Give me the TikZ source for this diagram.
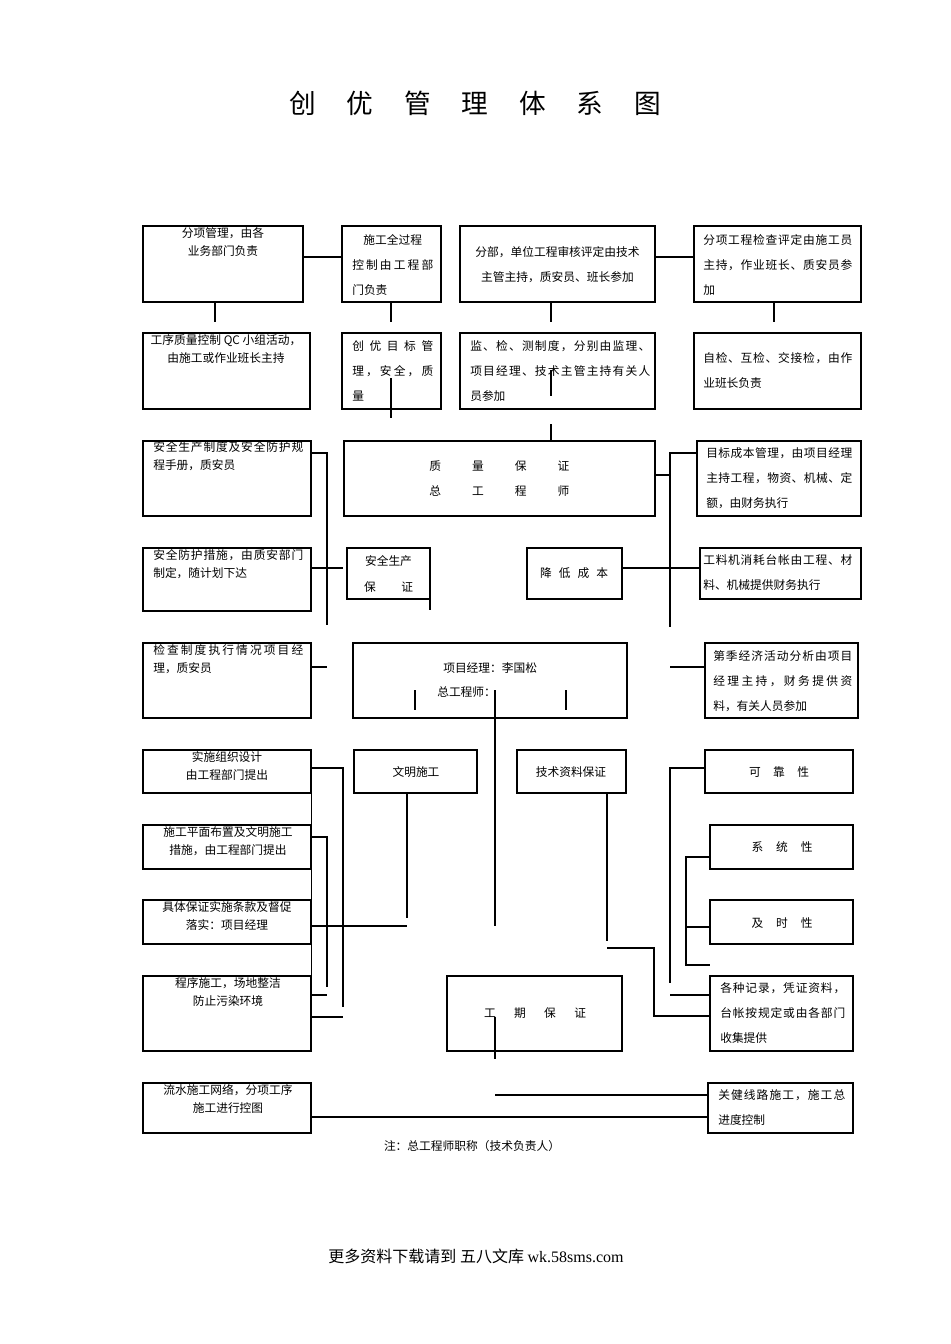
\documentclass[tikz,border=0pt]{standalone}
\usepackage{fontspec}
\setmainfont{Noto Sans CJK SC}
\newfontfamily\lat{Liberation Serif}
\newdimen\pxu \pxu=0.75pt
\def\jstaux#1#2{#1\ifx\relax#2\else\hfill\expandafter\jstaux\expandafter#2\fi}
\newcommand\jst[2]{\makebox[#1\pxu][s]{\jstaux#2\relax}}
\newcommand\fa{\fontsize{8.8}{13.5}\selectfont}
\newcommand\fb{\fontsize{8.8}{18.75}\selectfont}
\newcommand\fc{\fontsize{8.8}{18}\selectfont}
\newcommand\mybox[5]{\node[box,minimum width={(#4-#2)*0.75pt},minimum height={(#5-#3)*0.75pt}] (#1) at ({(#2+#4)/2},{(#3+#5)/2}) {};}
\tikzset{
  box/.style={draw,rectangle,inner sep=0pt,line width=0.9pt},
  ln/.style={line width=0.9pt},
  txt/.style={inner sep=0pt,font=\fa},
  txtb/.style={inner sep=0pt,font=\fb,align=left},
}
\begin{document}
\begin{tikzpicture}[x=0.75pt,y=-0.75pt]
\useasboundingbox (0,0) rectangle (950,1344);
% title
\node[inner sep=0pt,font=\fontsize{20}{20}\selectfont] (title) at (475,103) {\jst{372}{创优管理体系图}};
% boxes
\mybox{A1}{143}{226}{303}{302}
\mybox{A2}{342}{226}{441}{302}
\mybox{A3}{460}{226}{655}{302}
\mybox{A4}{694}{226}{861}{302}
\mybox{B1}{143}{333}{310}{409}
\mybox{B2}{342}{333}{441}{409}
\mybox{B3}{460}{333}{655}{409}
\mybox{B4}{694}{333}{861}{409}
\mybox{C1}{143}{441}{311}{516}
\mybox{QA}{344}{441}{655}{516}
\mybox{C4}{697}{441}{861}{516}
\mybox{C2}{143}{548}{311}{611}
\mybox{SP}{347}{548}{430}{599}
\mybox{JD}{527}{548}{622}{599}
\mybox{C5}{700}{548}{861}{599}
\mybox{D1}{143}{643}{311}{718}
\mybox{PM}{353}{643}{627}{718}
\mybox{D4}{705}{643}{858}{718}
\mybox{E1}{143}{750}{311}{793}
\mybox{WM}{354}{750}{477}{793}
\mybox{JS}{517}{750}{626}{793}
\mybox{F1}{705}{750}{853}{793}
\mybox{E2}{143}{825}{311}{869}
\mybox{F2}{710}{825}{853}{869}
\mybox{E3}{143}{900}{311}{944}
\mybox{F3}{710}{900}{853}{944}
\mybox{E4}{143}{976}{311}{1051}
\mybox{GQ}{447}{976}{622}{1051}
\mybox{F4}{710}{976}{853}{1051}
\mybox{G1}{143}{1083}{311}{1133}
\mybox{G2}{708}{1083}{853}{1133}
% texts
\node[txt,anchor=north,align=center] (A1t) at (223,227.5) {分项管理，由各\\业务部门负责};
\node[txtb,anchor=north west] (A2t) at (352,234.5) {\makebox[81\pxu][c]{施工全过程}\\\jst{81}{控制由工程部}\\门负责};
\node[txtb,anchor=north,align=center] (A3t) at (557.5,246.5) {分部，单位工程审核评定由技术\\主管主持，质安员、班长参加};
\node[txtb,anchor=north west] (A4t) at (703,234.5) {\jst{149}{分项工程检查评定由施工员}\\\jst{149}{主持，作业班长、质安员参}\\加};
\node[txt,anchor=north,align=center] (B1t) at (226,334.5) {工序质量控制 QC 小组活动，\\由施工或作业班长主持};
\node[txtb,anchor=north west] (B2t) at (352,340.5) {\jst{81}{创优目标管}\\\jst{81}{理，安全，质}\\量};
\node[txtb,anchor=north west] (B3t) at (470,340.5) {\jst{180}{监、检、测制度，分别由监理、}\\\jst{180}{项目经理、技术主管主持有关人}\\员参加};
\node[txtb,anchor=north west] (B4t) at (703,352.5) {\jst{149}{自检、互检、交接检，由作}\\业班长负责};
\node[txt,anchor=north west,align=left] (C1t) at (153,441.5) {\jst{150}{安全生产制度及安全防护规}\\程手册，质安员};
\node[txtb,anchor=north west] (QAt) at (429,460.5) {\jst{140}{质量保证}\\\jst{140}{总工程师}};
\node[txtb,anchor=north west] (C4t) at (706,447.5) {\jst{146}{目标成本管理，由项目经理}\\\jst{146}{主持工程，物资、机械、定}\\额，由财务执行};
\node[txt,anchor=north west,align=left] (C2t) at (153,549.5) {\jst{150}{安全防护措施，由质安部门}\\制定，随计划下达};
\node[inner sep=0pt,font=\fontsize{8.8}{19.5}\selectfont,anchor=north,align=center] (SPt) at (388.5,555.5) {安全生产\\\jst{49}{保证}};
\node[txt] (JDt) at (574,573) {\jst{68}{降低成本}};
\node[txtb,anchor=north west] (C5t) at (703,554.5) {\jst{149}{工料机消耗台帐由工程、材}\\料、机械提供财务执行};
\node[txt,anchor=north west,align=left] (D1t) at (153,644.5) {\jst{150}{检查制度执行情况项目经}\\理，质安员};
\node[inner sep=0pt,font=\fc,anchor=north west,align=left] (PMt) at (437,662.5) {\hspace*{6\pxu}项目经理：李国松\\总工程师：};
\node[txtb,anchor=north west] (D4t) at (713,650.5) {\jst{139}{第季经济活动分析由项目}\\\jst{139}{经理主持，财务提供资}\\料，有关人员参加};
\node[txt,anchor=north,align=center] (E1t) at (227,751.5) {实施组织设计\\由工程部门提出};
\node[txt] (WMt) at (416,772) {文明施工};
\node[txt] (JSt) at (571,772) {技术资料保证};
\node[txt] (F1t) at (779,772) {\jst{60}{可靠性}};
\node[txt,anchor=north,align=center] (E2t) at (228,826.5) {施工平面布置及文明施工\\措施，由工程部门提出};
\node[txt] (F2t) at (782,847) {\jst{61}{系统性}};
\node[txt,anchor=north,align=center] (E3t) at (227,901.5) {具体保证实施条款及督促\\落实：项目经理};
\node[txt] (F3t) at (782,923) {\jst{61}{及时性}};
\node[txt,anchor=north,align=center] (E4t) at (228,977.5) {程序施工，场地整洁\\防止污染环境};
\node[txt] (GQt) at (535,1013) {\jst{102}{工期保证}};
\node[txtb,anchor=north west] (F4t) at (720,982.5) {\jst{125}{各种记录，凭证资料，}\\\jst{125}{台帐按规定或由各部门}\\收集提供};
\node[txt,anchor=north,align=center] (G1t) at (228,1084.5) {流水施工网络，分项工序\\施工进行控图};
\node[txtb,anchor=north west] (G2t) at (718,1089.5) {\jst{127}{关健线路施工，施工总}\\进度控制};
\node[txt] (note) at (472,1146) {注：总工程师职称（技术负责人）};
\node[inner sep=0pt,font=\fontsize{12}{12}\selectfont] (foot) at (476,1256) {更多资料下载请到 五八文库 {\lat wk.58sms.com}};
% connectors
\draw[ln] (A1.east |- 0,257) -- (A2.west |- 0,257);
\draw[ln] (A3.east |- 0,257) -- (A4.west |- 0,257);
\draw[ln] (215,0 |- A1.south) -- (215,322);
\draw[ln] (391,0 |- A2.south) -- (391,322);
\draw[ln] (551,0 |- A3.south) -- (551,322);
\draw[ln] (774,0 |- A4.south) -- (774,322);
\draw[ln] (391,378) -- (391,418);
\draw[ln] (551,370) -- (551,396);
\draw[ln] (551,424) -- (551,0 |- QA.north);
\draw[ln] (C1.east |- 0,453) -| (327,625);
\draw[ln] (C2.east |- 0,568) -- (343,568);
\draw[ln] (430,0 |- SP.south) -- (430,610);
\draw[ln] (QA.east |- 0,475) -- (670,475);
\draw[ln] (C4.west |- 0,453) -| (670,627);
\draw[ln] (JD.east |- 0,568) -- (C5.west |- 0,568);
\draw[ln] (D1.east |- 0,667) -- (327,667);
\draw[ln] (670,667) -- (D4.west |- 0,667);
\draw[ln] (415,690) -- (415,710);
\draw[ln] (566,690) -- (566,710);
\draw[ln] (495,690) -- (495,926);
\draw[ln] (E1.east |- 0,768) -| (343,1007);
\draw[ln] (E4.east |- 0,1017) -- (343,1017);
\draw[ln] (E2.east |- 0,837) -| (327,987);
\draw[ln] (E4.east |- 0,995) -- (327,995);
\draw[ln] (E1.south east) -- (E4.north east);
\draw[ln] (407,0 |- WM.south) -- (407,918);
\draw[ln] (E3.east |- 0,926) -- (407,926);
\draw[ln] (607,0 |- JS.south) -- (607,941);
\draw[ln] (607,948) -- (654,948) -- (654,1016) -- (F4.west |- 0,1016);
\draw[ln] (F1.west |- 0,768) -| (670,983);
\draw[ln] (670,995) -- (F4.west |- 0,995);
\draw[ln] (F2.west |- 0,857) -| (686,965) -- (710,965);
\draw[ln] (686,927) -- (F3.west |- 0,927);
\draw[ln] (495,1017) -- (495,1059);
\draw[ln] (495,1095) -- (G2.west |- 0,1095);
\draw[ln] (G1.east |- 0,1117) -- (G2.west |- 0,1117);
\end{tikzpicture}
\end{document}
